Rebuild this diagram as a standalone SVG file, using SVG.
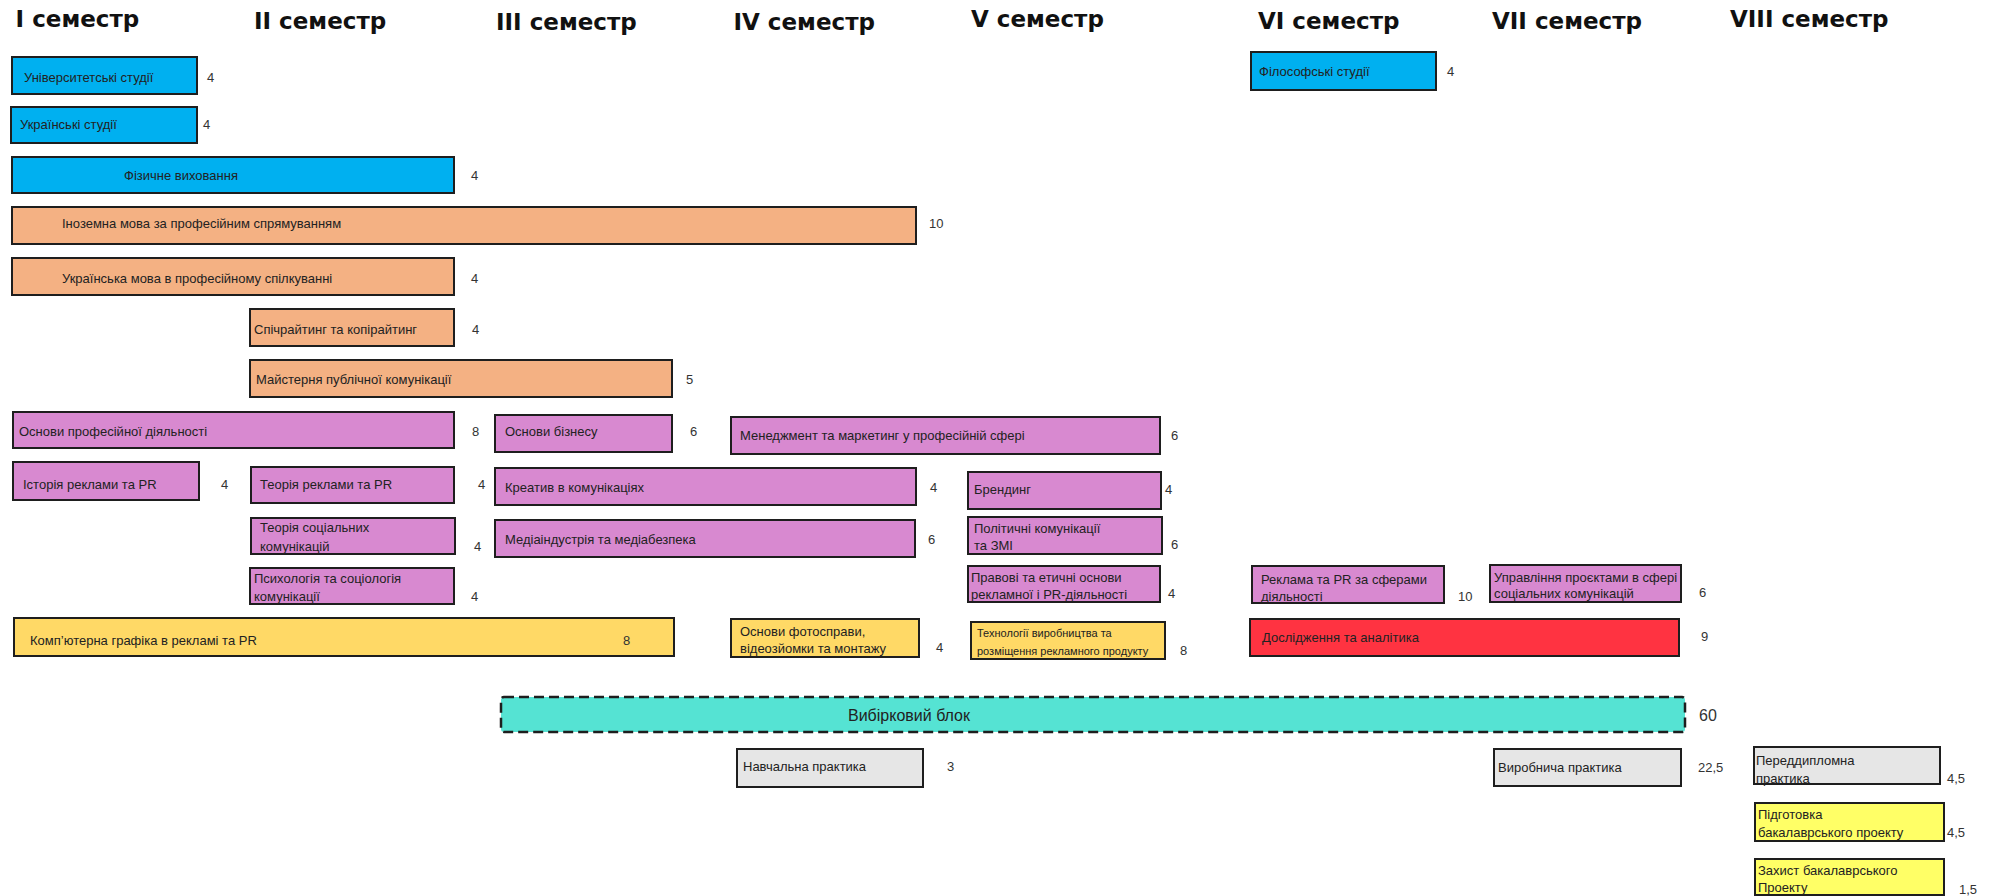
<svg xmlns="http://www.w3.org/2000/svg" width="2001" height="896" viewBox="0 0 2001 896">
<style>
.b{stroke:#1e1e1e;stroke-width:2}
.blue{fill:#00b0f0}
.or{fill:#f4b183}
.vi{fill:#d889d0}
.ye{fill:#ffd966}
.red{fill:#ff3341}
.gr{fill:#e6e6e6}
.by{fill:#ffff66}
.tl{fill:#55e3d3}
.hd{font-family:"DejaVu Sans",sans-serif;font-weight:bold;font-size:23px;fill:#111}
.t{font-family:"Liberation Sans",Arial,sans-serif;font-size:13px;fill:#222;dominant-baseline:central}
.s{font-size:11px}
.n{font-family:"Liberation Sans",Arial,sans-serif;font-size:13px;fill:#333;dominant-baseline:central}
.big{font-size:16px}
</style>
<rect width="2001" height="896" fill="#fff"/>
<g id="headings">
<text class="hd" x="15.6" y="27">I семестр</text>
<text class="hd" x="254" y="28.5">II семестр</text>
<text class="hd" x="496" y="29.5">III семестр</text>
<text class="hd" x="733.5" y="29.5">IV семестр</text>
<text class="hd" x="971" y="27">V семестр</text>
<text class="hd" x="1258" y="28.5">VI семестр</text>
<text class="hd" x="1492" y="28.5">VII семестр</text>
<text class="hd" x="1730" y="27">VIII семестр</text>
</g>
<g id="univ"><rect class="b blue" x="12" y="57" width="185" height="37"/><text class="t" x="24" y="77">Університетські студії</text><text class="n" x="207" y="77">4</text></g>
<g id="ukr-stud"><rect class="b blue" x="11" y="107" width="186" height="36"/><text class="t" x="20" y="124">Українські студії</text><text class="n" x="203" y="124">4</text></g>
<g id="fiz"><rect class="b blue" x="12" y="157" width="442" height="36"/><text class="t" x="124" y="175">Фізичне виховання</text><text class="n" x="471" y="175">4</text></g>
<g id="inoz"><rect class="b or" x="12" y="207" width="904" height="37"/><text class="t" x="62" y="223">Іноземна мова за професійним спрямуванням</text><text class="n" x="929" y="223">10</text></g>
<g id="ukr-mova"><rect class="b or" x="12" y="258" width="442" height="37"/><text class="t" x="62" y="278">Українська мова в професійному спілкуванні</text><text class="n" x="471" y="278">4</text></g>
<g id="spich"><rect class="b or" x="250" y="309" width="204" height="37"/><text class="t" x="254" y="329">Спічрайтинг та копірайтинг</text><text class="n" x="472" y="329">4</text></g>
<g id="maist"><rect class="b or" x="250" y="360" width="422" height="37"/><text class="t" x="256" y="379">Майстерня публічної комунікації</text><text class="n" x="686" y="379">5</text></g>
<g id="osn-prof"><rect class="b vi" x="13" y="412" width="441" height="36"/><text class="t" x="19" y="431">Основи професійної діяльності</text><text class="n" x="472" y="431">8</text></g>
<g id="osn-biz"><rect class="b vi" x="495" y="415" width="177" height="37"/><text class="t" x="505" y="431">Основи бізнесу</text><text class="n" x="690" y="431">6</text></g>
<g id="menedzh"><rect class="b vi" x="731" y="417" width="429" height="37"/><text class="t" x="740" y="435">Менеджмент та маркетинг у професійній сфері</text><text class="n" x="1171" y="435">6</text></g>
<g id="istor"><rect class="b vi" x="13" y="462" width="186" height="38"/><text class="t" x="23" y="484">Історія реклами та PR</text><text class="n" x="221" y="484">4</text></g>
<g id="teor-rekl"><rect class="b vi" x="251" y="467" width="203" height="36"/><text class="t" x="260" y="484">Теорія реклами та PR</text><text class="n" x="478" y="484">4</text></g>
<g id="kreativ"><rect class="b vi" x="495" y="468" width="421" height="37"/><text class="t" x="505" y="487">Креатив в комунікаціях</text><text class="n" x="930" y="487">4</text></g>
<g id="brend"><rect class="b vi" x="968" y="472" width="193" height="37"/><text class="t" x="974" y="489">Брендинг</text><text class="n" x="1165" y="489">4</text></g>
<g id="teor-soc"><rect class="b vi" x="251" y="518" width="204" height="36"/><text class="t" x="260" y="527">Теорія соціальних</text><text class="t" x="260" y="546">комунікацій</text><text class="n" x="474" y="546">4</text></g>
<g id="media"><rect class="b vi" x="495" y="520" width="420" height="37"/><text class="t" x="505" y="539">Медіаіндустрія та медіабезпека</text><text class="n" x="928" y="539">6</text></g>
<g id="polit"><rect class="b vi" x="968" y="517" width="194" height="37"/><text class="t" x="974" y="528">Політичні комунікації</text><text class="t" x="974" y="545">та ЗМІ</text><text class="n" x="1171" y="544">6</text></g>
<g id="psych"><rect class="b vi" x="250" y="568" width="204" height="36"/><text class="t" x="254" y="578">Психологія та соціологія</text><text class="t" x="254" y="596">комунікації</text><text class="n" x="471" y="596">4</text></g>
<g id="pravovi"><rect class="b vi" x="968" y="566" width="192" height="36"/><text class="t" x="971" y="577">Правові та етичні основи</text><text class="t" x="971" y="594">рекламної і PR-діяльності</text><text class="n" x="1168" y="593">4</text></g>
<g id="rekl-sfery"><rect class="b vi" x="1252" y="566" width="192" height="37"/><text class="t" x="1261" y="579">Реклама та PR за сферами</text><text class="t" x="1261" y="596">діяльності</text><text class="n" x="1458" y="596">10</text></g>
<g id="upravl"><rect class="b vi" x="1490" y="565" width="191" height="37"/><text class="t" x="1494" y="577">Управління проєктами в сфері</text><text class="t" x="1494" y="593">соціальних комунікацій</text><text class="n" x="1699" y="592">6</text></g>
<g id="komp"><rect class="b ye" x="14" y="618" width="660" height="38"/><text class="t" x="30" y="640">Комп’ютерна графіка в рекламі та PR</text><text class="n" x="623" y="640">8</text></g>
<g id="foto"><rect class="b ye" x="731" y="619" width="188" height="38"/><text class="t" x="740" y="631">Основи фотосправи,</text><text class="t" x="740" y="648">відеозйомки та монтажу</text><text class="n" x="936" y="647">4</text></g>
<g id="tech"><rect class="b ye" x="971" y="622" width="194" height="37"/><text class="t s" x="977" y="633">Технології виробництва та</text><text class="t s" x="977" y="651">розміщення рекламного продукту</text><text class="n" x="1180" y="650">8</text></g>
<g id="doslid"><rect class="b red" x="1250" y="619" width="429" height="37"/><text class="t" x="1262" y="637">Дослідження та аналітика</text><text class="n" x="1701" y="636">9</text></g>
<g id="filos"><rect class="b blue" x="1251" y="52" width="185" height="38"/><text class="t" x="1259" y="71">Філософські студії</text><text class="n" x="1447" y="71">4</text></g>
<g id="vybir"><rect class="tl" x="501" y="697" width="1184" height="35" rx="3" stroke="#1e1e1e" stroke-width="2.5" stroke-dasharray="10 5"/><text class="t big" x="909" y="715" text-anchor="middle">Вибірковий блок</text><text class="n big" x="1699" y="715">60</text></g>
<g id="navch"><rect class="b gr" x="737" y="749" width="186" height="38"/><text class="t" x="743" y="766">Навчальна практика</text><text class="n" x="947" y="766">3</text></g>
<g id="vyrob"><rect class="b gr" x="1494" y="749" width="187" height="37"/><text class="t" x="1498" y="767">Виробнича практика</text><text class="n" x="1698" y="767">22,5</text></g>
<g id="peredd"><rect class="b gr" x="1754" y="747" width="186" height="37"/><text class="t" x="1756" y="760">Переддипломна</text><text class="t" x="1756" y="778">практика</text><text class="n" x="1947" y="778">4,5</text></g>
<g id="pidgot"><rect class="b by" x="1755" y="803" width="189" height="38"/><text class="t" x="1758" y="814">Підготовка</text><text class="t" x="1758" y="832">бакалаврського проекту</text><text class="n" x="1947" y="832">4,5</text></g>
<g id="zakhyst"><rect class="b by" x="1755" y="859" width="189" height="36"/><text class="t" x="1758" y="870">Захист бакалаврського</text><text class="t" x="1758" y="887">Проекту</text><text class="n" x="1959" y="889">1,5</text></g>
</svg>
